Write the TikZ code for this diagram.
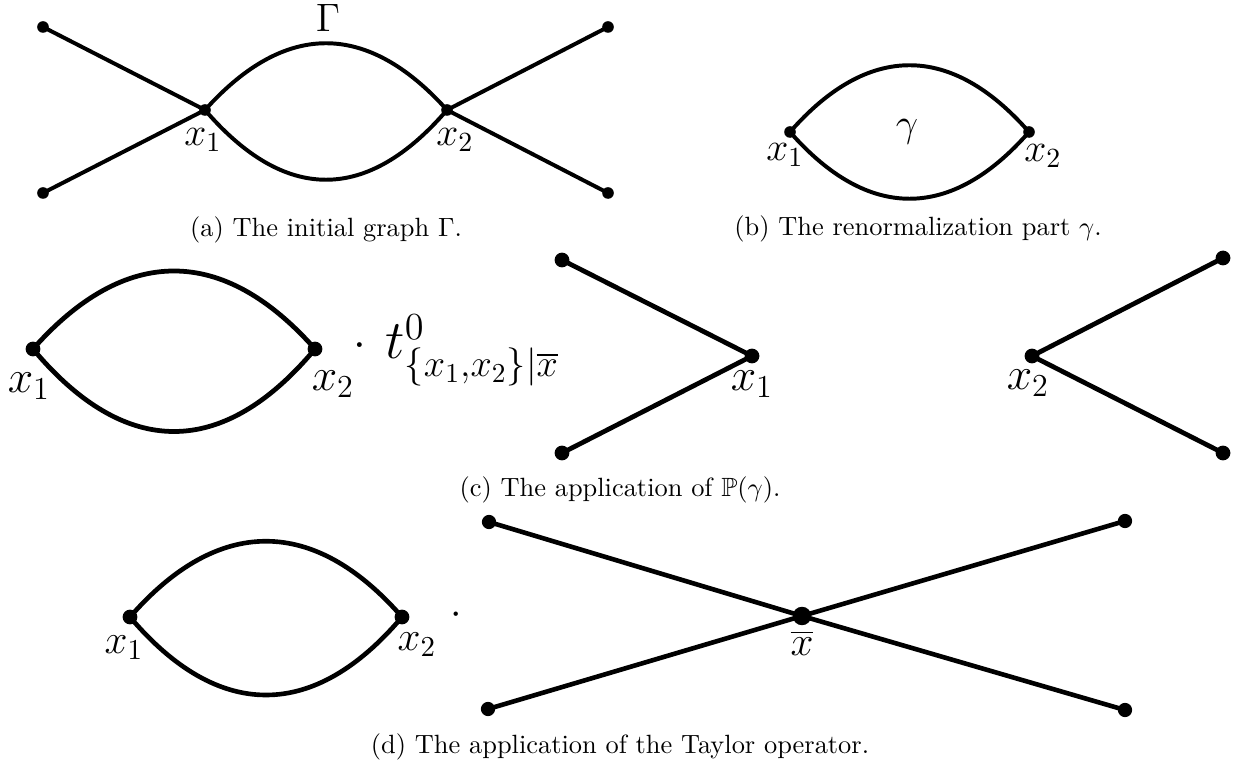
\RequirePackage{fix-cm}
\documentclass[tikz,border=0pt]{standalone}
\usepackage{amssymb}
\begin{document}
\begin{tikzpicture}[x=0.3788pt,y=-0.3788pt,
  vtx/.style={circle,fill=black,inner sep=0pt,minimum size=#1},
  dotA/.style={vtx=4.4pt},
  dotC/.style={vtx=5.6pt},
  dotD/.style={vtx=5.4pt},
  dotBig/.style={vtx=7pt},
  edgeA/.style={line width=1.5pt},
  edgeC/.style={line width=1.8pt},
  edgeD/.style={line width=1.75pt},
  lblA/.style={inner sep=0pt,font=\fontsize{15}{18}\selectfont},
  lblC/.style={inner sep=0pt,font=\fontsize{17.3}{20}\selectfont},
  lblD/.style={inner sep=0pt,font=\fontsize{15.6}{19}\selectfont},
  captext/.style={inner sep=0pt,font=\fontsize{10}{12}\selectfont},
]
\useasboundingbox (0,0) rectangle (1242,767);

% ---------- (a) ----------
\node[dotA] (aTL) at (43,27) {};
\node[dotA] (aBL) at (43,193) {};
\node[dotA] (aTR) at (608,27) {};
\node[dotA] (aBR) at (608,193) {};
\node[dotA] (aX1) at (205,110) {};
\node[dotA] (aX2) at (447,110) {};
\draw[edgeA] (aTL.center) -- (aX1.center) -- (aBL.center);
\draw[edgeA] (aTR.center) -- (aX2.center) -- (aBR.center);
\draw[edgeA] (aX1.center) .. controls +(80,-89) and +(-80,-89) .. (aX2.center);
\draw[edgeA] (aX1.center) .. controls +(80,93) and +(-80,93) .. (aX2.center);
\node[lblA] (aG) at (328,18) {$\Gamma$};
\node[lblA] (aL1) at (203,140) {$x_1$};
\node[lblA] (aL2) at (455,140) {$x_2$};
\node[captext] (capA) at (326,230) {(a) The initial graph $\Gamma$.};

% ---------- (b) ----------
\node[dotA] (bX1) at (790,132) {};
\node[dotA] (bX2) at (1029,132) {};
\draw[edgeA] (bX1.center) .. controls +(78,-89) and +(-78,-89) .. (bX2.center);
\draw[edgeA] (bX1.center) .. controls +(78,89) and +(-78,89) .. (bX2.center);
\node[lblA] (bG) at (907,132) {$\gamma$};
\node[lblA] (bL1) at (785,155) {$x_1$};
\node[lblA] (bL2) at (1043,156) {$x_2$};
\node[captext] (capB) at (918,229) {(b) The renormalization part $\gamma$.};

% ---------- (c) ----------
\node[dotC] (cX1) at (33,349) {};
\node[dotC] (cX2) at (315,349) {};
\draw[edgeC] (cX1.center) .. controls +(92,-104) and +(-92,-104) .. (cX2.center);
\draw[edgeC] (cX1.center) .. controls +(92,110) and +(-92,110) .. (cX2.center);
\node[lblC] (cL1) at (29,386) {$x_1$};
\node[lblC] (cL2) at (333,384) {$x_2$};
\node[lblC] (cDot) at (360,346) {$\cdot$};
\node[anchor=base west,inner sep=0pt,font=\fontsize{20.7}{24}\selectfont] (cT) at (385,359) {$t^0_{\{x_1,x_2\}|\overline{x}}$};

\node[dotC] (cTL) at (562,260) {};
\node[dotC] (cBL) at (562,453) {};
\node[dotC] (cY1) at (752,356) {};
\draw[edgeC] (cTL.center) -- (cY1.center) -- (cBL.center);
\node[lblC] (cM1) at (752,384) {$x_1$};

\node[dotC] (cY2) at (1032,356) {};
\node[dotC] (cTR) at (1223,258) {};
\node[dotC] (cBR) at (1223,453) {};
\draw[edgeC] (cTR.center) -- (cY2.center) -- (cBR.center);
\node[lblC] (cM2) at (1028,383) {$x_2$};
\node[captext] (capC) at (620,490) {(c) The application of $\mathbb{P}(\gamma)$.};

% ---------- (d) ----------
\node[dotC] (dX1) at (130,617) {};
\node[dotC] (dX2) at (402,617) {};
\draw[edgeD] (dX1.center) .. controls +(88,-101) and +(-88,-101) .. (dX2.center);
\draw[edgeD] (dX1.center) .. controls +(88,104) and +(-88,104) .. (dX2.center);
\node[lblD] (dL1) at (124,648) {$x_1$};
\node[lblD] (dL2) at (417,645) {$x_2$};
\node[lblD] (dDot) at (456,615) {$\cdot$};

\node[dotD] (dTL) at (489,522) {};
\node[dotD] (dBL) at (488,709) {};
\node[dotD] (dTR) at (1125,521) {};
\node[dotD] (dBR) at (1125,710) {};
\node[dotBig] (dCtr) at (802,616) {};
\draw[edgeD] (dTL.center) -- (dCtr.center) -- (dBR.center);
\draw[edgeD] (dBL.center) -- (dCtr.center) -- (dTR.center);
\node[lblD] (dXb) at (802,643) {$\overline{x}$};
\node[captext] (capD) at (620,747) {(d) The application of the Taylor operator.};
\end{tikzpicture}
\end{document}
